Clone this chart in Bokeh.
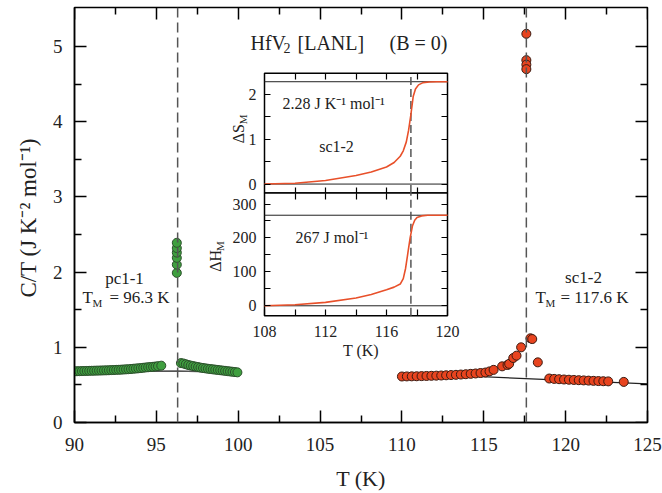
from bokeh.plotting import figure
from bokeh.models import Range1d, LinearAxis, FixedTicker, Label, Span
from bokeh.embed import file_html
from bokeh.resources import INLINE

# ---------------- data ----------------
green_T_low = [90.0, 90.15, 90.3, 90.45, 90.6, 90.75, 90.9, 91.05, 91.2, 91.35, 91.5, 91.65,
               91.8, 91.95, 92.1, 92.25, 92.4, 92.55, 92.7, 92.85, 93.0, 93.15, 93.3, 93.45,
               93.6, 93.75, 93.9, 94.05, 94.2, 94.35, 94.5, 94.65, 94.8, 94.95, 95.1, 95.3]
green_C_low = [0.681, 0.682, 0.683, 0.684, 0.685, 0.686, 0.687, 0.688, 0.689, 0.690, 0.691, 0.692,
               0.693, 0.694, 0.695, 0.697, 0.698, 0.700, 0.701, 0.703, 0.705, 0.707, 0.709, 0.712,
               0.715, 0.718, 0.721, 0.724, 0.728, 0.732, 0.735, 0.738, 0.741, 0.745, 0.749, 0.756]
green_T_peak = [96.25, 96.25, 96.25, 96.25, 96.25, 96.25]
green_C_peak = [1.99, 2.10, 2.19, 2.26, 2.32, 2.39]
green_T_high = [96.5, 96.65, 96.8, 96.95, 97.1, 97.25, 97.4, 97.55, 97.7, 97.85, 98.0, 98.15,
                98.3, 98.45, 98.6, 98.75, 98.9, 99.05, 99.2, 99.35, 99.5, 99.65, 99.8, 99.95]
green_C_high = [0.790, 0.785, 0.775, 0.765, 0.757, 0.750, 0.743, 0.737, 0.730, 0.725, 0.720, 0.715,
                0.711, 0.707, 0.703, 0.699, 0.695, 0.691, 0.687, 0.683, 0.679, 0.675, 0.671, 0.667]
green_base_T = [90.0, 96.3, 100.0]
green_base_C = [0.677, 0.685, 0.665]

red_T_low = [110.0, 110.3, 110.6, 110.9, 111.2, 111.5, 111.8, 112.1, 112.4, 112.7, 113.0, 113.3,
             113.6, 113.9, 114.2, 114.5, 114.8, 115.1, 115.35, 115.6]
red_C_low = [0.612, 0.613, 0.614, 0.615, 0.617, 0.619, 0.621, 0.623, 0.625, 0.628, 0.631, 0.634,
             0.638, 0.642, 0.647, 0.652, 0.658, 0.665, 0.680, 0.700]
red_T_trans = [116.12, 116.45, 116.55, 116.8, 117.0, 117.28, 117.85, 117.96, 118.3]
red_C_trans = [0.747, 0.765, 0.780, 0.858, 0.889, 1.000, 1.120, 1.110, 0.800]
red_T_peak = [117.6, 117.6, 117.6, 117.6]
red_C_peak = [5.17, 4.82, 4.76, 4.70]
red_T_high = [119.0, 119.3, 119.6, 119.9, 120.2, 120.5, 120.8, 121.1, 121.4, 121.7, 122.0,
              122.3, 122.6, 123.55]
red_C_high = [0.585, 0.580, 0.576, 0.572, 0.569, 0.566, 0.563, 0.560, 0.557, 0.554, 0.551,
              0.549, 0.547, 0.540]
red_base_T = [110.0, 125.0]
red_base_C = [0.655, 0.515]

T_M = [96.3, 117.6]

inset_T_S = [108, 110, 112, 114, 115, 116, 116.5, 116.9, 117.1, 117.3, 117.45, 117.6, 117.75,
             117.9, 118.1, 118.4, 118.8, 119.3, 120]
inset_dS = [0, 0.02, 0.08, 0.19, 0.27, 0.38, 0.48, 0.62, 0.74, 0.94, 1.2, 1.55, 1.95,
            2.12, 2.21, 2.26, 2.275, 2.28, 2.28]
inset_T_H = [108, 110, 112, 114, 115, 116, 116.5, 116.9, 117.1, 117.25, 117.4, 117.55, 117.7,
             117.85, 118.0, 118.3, 118.7, 119.2, 120]
inset_dH = [0, 3, 10, 23, 33, 47, 55, 64, 80, 110, 155, 200, 235, 252, 260, 265, 267, 267, 267]
dS_total = 2.28
dH_total = 267

x_ticks = [90, 95, 100, 105, 110, 115, 120, 125]
x_minor = [92.5, 97.5, 102.5, 107.5, 112.5, 117.5, 122.5]
y_ticks = [0, 1, 2, 3, 4, 5]
y_minor = [0.5, 1.5, 2.5, 3.5, 4.5]
ix_ticks = [108, 112, 116, 120]
ix_minor = [110, 114, 118]
iS_ticks = [0, 1, 2]
iS_minor = [0.5, 1.5]
iH_ticks = [0, 100, 200, 300]
iH_minor = [50, 150, 250]

# ---------------- layout ----------------
FONT = "Liberation Serif"
FX0, FX1, FY0, FY1 = 74, 647, 7, 423
XR = (90, 125)
YR = (0, 5.52)


def mx(px):
    return XR[0] + (px - FX0) * (XR[1] - XR[0]) / (FX1 - FX0)


def my(py):
    return YR[0] + (FY1 - py) * (YR[1] - YR[0]) / (FY1 - FY0)


def lin(v0, p0, v1, p1):
    return lambda px: v0 + (px - p0) * (v1 - v0) / (p1 - p0)


ixm = lin(108, 264, 120, 447)
iSm = lin(0, 184, 2, 94)
iHm = lin(0, 306, 300, 204)
S_bot, S_top = iSm(193), iSm(73)
H_bot, H_top = iHm(316), iHm(193)

p = figure(width=662, height=493, x_range=XR, y_range=YR, output_backend="svg",
           toolbar_location=None, min_border_left=FX0, min_border_right=662 - FX1,
           min_border_top=FY0, min_border_bottom=493 - FY1)
p.extra_x_ranges = {"ix": Range1d(ixm(FX0), ixm(FX1))}
p.extra_y_ranges = {"iS": Range1d(iSm(FY1), iSm(FY0)), "iH": Range1d(iHm(FY1), iHm(FY0))}
p.xgrid.visible = False
p.ygrid.visible = False
p.outline_line_color = "black"
p.outline_line_width = 1.5
p.outline_line_alpha = 1.0
p.background_fill_color = "white"
p.border_fill_color = "white"

# main axes
xa = p.xaxis[0]
xa.ticker = FixedTicker(ticks=x_ticks, minor_ticks=x_minor)
ya = p.yaxis[0]
ya.ticker = FixedTicker(ticks=y_ticks, minor_ticks=y_minor)
for ax in (xa, ya):
    ax.major_tick_in = 12
    ax.major_tick_out = 0
    ax.minor_tick_in = 7
    ax.minor_tick_out = 0
    ax.axis_line_width = 1.5
    ax.major_tick_line_width = 1.5
    ax.minor_tick_line_width = 1.5
    ax.major_label_text_font = FONT
    ax.major_label_text_font_size = "19px"
    ax.major_label_text_color = "#222222"
    ax.axis_label_text_font = FONT
    ax.axis_label_text_font_style = "normal"
    ax.axis_label_text_color = "#222222"
xa.major_label_standoff = 15
xa.axis_label = "T (K)"
xa.axis_label_text_font_size = "22px"
xa.axis_label_standoff = 12
ya.major_label_standoff = 12
ya.axis_label = "C/T  (J K\u207b\u00b2 mol\u207b\u00b9)"
ya.axis_label_text_font_size = "23px"
ya.axis_label_standoff = 9


def mirror(side, loc, ticks, minor, xr="default", yr="default", tin=12, tmin=7,
           labels=False, size="16px", standoff=6, label=None, lw=1.5):
    ax = LinearAxis(x_range_name=xr, y_range_name=yr, fixed_location=loc,
                    ticker=FixedTicker(ticks=ticks, minor_ticks=minor),
                    major_tick_in=tin, major_tick_out=0, minor_tick_in=tmin, minor_tick_out=0,
                    major_tick_line_width=lw, minor_tick_line_width=lw,
                    axis_line_color=None,
                    major_label_text_font=FONT, major_label_text_font_size=size,
                    major_label_standoff=standoff, major_label_text_color="#222222")
    if not labels:
        ax.major_label_text_color = None
    if label is not None:
        ax.axis_label = label
        ax.axis_label_text_font = FONT
        ax.axis_label_text_font_style = "normal"
        ax.axis_label_text_font_size = size
        ax.axis_label_standoff = 2
        ax.axis_label_text_color = "#222222"
    p.add_layout(ax, side)
    return ax


mirror("right", XR[1], y_ticks, y_minor)
mirror("above", YR[1], x_ticks, x_minor)

# reference lines at the transitions
for t in T_M:
    p.add_layout(Span(location=t, dimension="height", line_color="#555555",
                      line_width=1.5, line_dash="10 5"))

# background lines
p.line(green_base_T, green_base_C, line_color="#555555", line_width=1.5)
p.line(red_base_T, red_base_C, line_color="#222222", line_width=1.2)

g_kw = dict(size=9, fill_color="#3f9f3f", line_color="#2b4f2b", line_width=1)
r_kw = dict(size=9, fill_color="#e8441f", line_color="#3a1a10", line_width=1)
p.scatter(green_T_low, green_C_low, **g_kw)
p.scatter(green_T_high, green_C_high, **g_kw)
p.scatter(green_T_peak, green_C_peak, **g_kw)
p.scatter(red_T_low, red_C_low, **r_kw)
p.scatter(red_T_trans, red_C_trans, **r_kw)
p.scatter(red_T_high, red_C_high, **r_kw)
p.scatter(red_T_peak, red_C_peak, **r_kw)

# ---------------- inset ----------------
p.quad(left=[ixm(264)], right=[ixm(447)], bottom=[S_bot], top=[S_top], x_range_name="ix",
       y_range_name="iS", fill_color="white", line_color="black", line_width=1.5)
p.quad(left=[ixm(264)], right=[ixm(447)], bottom=[H_bot], top=[H_top], x_range_name="ix",
       y_range_name="iH", fill_color="white", line_color="black", line_width=1.5)

p.segment(x0=[inset_T_S[0], inset_T_S[0]], x1=[inset_T_S[-1], inset_T_S[-1]],
          y0=[0, dS_total], y1=[0, dS_total], x_range_name="ix", y_range_name="iS",
          line_color="#222222", line_width=1)
p.segment(x0=[inset_T_H[0], inset_T_H[0]], x1=[inset_T_H[-1], inset_T_H[-1]],
          y0=[0, dH_total], y1=[0, dH_total], x_range_name="ix", y_range_name="iH",
          line_color="#222222", line_width=1)
p.segment(x0=[T_M[1]], x1=[T_M[1]], y0=[S_bot], y1=[S_top], x_range_name="ix",
          y_range_name="iS", line_color="#555555", line_width=1.5, line_dash="8 4")
p.segment(x0=[T_M[1]], x1=[T_M[1]], y0=[H_bot], y1=[H_top], x_range_name="ix",
          y_range_name="iH", line_color="#555555", line_width=1.5, line_dash="8 4")
p.line(inset_T_S, inset_dS, x_range_name="ix", y_range_name="iS", line_color="#e8502a",
       line_width=1.6)
p.line(inset_T_H, inset_dH, x_range_name="ix", y_range_name="iH", line_color="#e8502a",
       line_width=1.6)

ik = dict(tin=6, tmin=6, lw=1.2)
mirror("left", ix_ticks[0], iS_ticks, iS_minor, "ix", "iS", labels=True, standoff=8, **ik)
mirror("right", ix_ticks[-1], iS_ticks, iS_minor, "ix", "iS", **ik)
mirror("above", S_top, ix_ticks[1:-1], ix_minor, "ix", "iS", **ik)
mirror("below", S_bot, ix_ticks[1:-1], ix_minor, "ix", "iS", **ik)
mirror("left", ix_ticks[0], iH_ticks, iH_minor, "ix", "iH", labels=True, standoff=8, **ik)
mirror("right", ix_ticks[-1], iH_ticks, iH_minor, "ix", "iH", **ik)
mirror("above", H_top, ix_ticks[1:-1], ix_minor, "ix", "iH", **ik)
mirror("below", H_bot, ix_ticks, ix_minor, "ix", "iH", labels=True, standoff=10,
       label="T (K)", **ik)


# ---------------- texts ----------------
def txt(s, px, py, size, align="left", angle=0.0):
    p.add_layout(Label(x=mx(px), y=my(py), text=s, text_font=FONT, text_font_size=size,
                       text_align=align, text_baseline="alphabetic", angle=angle,
                       text_color="#222222"))


txt("HfV", 250, 43, "20px")
txt("2", 283, 48, "14px")
txt("[LANL]", 297, 43, "20px")
txt("(B = 0)", 389, 43, "20px")

txt("pc1-1", 124, 279, "17px", align="center")
txt("T", 82, 298, "17px")
txt("M", 92, 303, "11px")
txt("= %.1f K" % T_M[0], 109, 298, "17px")

txt("sc1-2", 583, 278, "17px", align="center")
txt("T", 535, 298, "17px")
txt("M", 545, 303, "11px")
txt("= %.1f K" % T_M[1], 560, 298, "17px")

txt("%.2f J K\u207b\u00b9 mol\u207b\u00b9" % dS_total, 282, 103, "16px")
txt("sc1-2", 336, 146, "16px", align="center")
txt("%d J mol\u207b\u00b9" % dH_total, 295, 238, "16px")

txt("\u0394S", 238, 143, "16px", angle=1.5708)
txt("M", 242, 124, "11px", angle=1.5708)
txt("\u0394H", 215, 272, "16px", angle=1.5708)
txt("M", 219, 251, "11px", angle=1.5708)

open("out.html", "w").write(file_html(p, INLINE))
